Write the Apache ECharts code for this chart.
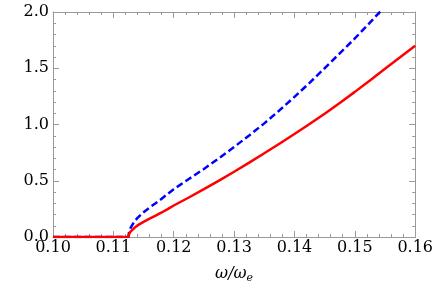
<!DOCTYPE html>
<html>
<head>
<meta charset="utf-8">
<script src="https://cdn.jsdelivr.net/npm/echarts@6/dist/echarts.min.js"></script>
<style>html,body{margin:0;padding:0;background:#fff}#c{width:436px;height:289px}</style>
</head>
<body>
<div id="c"></div>
<script>
// omega / omega_e values and curves
var redX = [0.100, 0.1125, 0.1126, 0.1128, 0.1130, 0.1135, 0.1140, 0.1150, 0.1160, 0.1170, 0.1180, 0.1190, 0.1200, 0.1225, 0.1250, 0.1275, 0.1300, 0.1325, 0.1350, 0.1375, 0.1400, 0.1425, 0.1450, 0.1475, 0.1500, 0.1525, 0.1550, 0.1575, 0.1600];
var redY = [0.0, 0.0, 0.025, 0.045, 0.058, 0.082, 0.103, 0.135, 0.163, 0.190, 0.218, 0.248, 0.280, 0.351, 0.425, 0.501, 0.580, 0.661, 0.745, 0.829, 0.915, 1.004, 1.095, 1.191, 1.290, 1.391, 1.495, 1.597, 1.700];
var blueX = [0.100, 0.1125, 0.1126, 0.1128, 0.1130, 0.1135, 0.1140, 0.1150, 0.1160, 0.1170, 0.1180, 0.1190, 0.1200, 0.1225, 0.1250, 0.1275, 0.1300, 0.1325, 0.1350, 0.1375, 0.1400, 0.1425, 0.1450, 0.1475, 0.1500, 0.1525, 0.1550];
var blueY = [0.0, 0.0, 0.045, 0.075, 0.095, 0.140, 0.170, 0.220, 0.262, 0.300, 0.340, 0.383, 0.425, 0.515, 0.605, 0.700, 0.800, 0.903, 1.010, 1.125, 1.245, 1.370, 1.500, 1.632, 1.765, 1.905, 2.050];
var xTicks = [0.10, 0.11, 0.12, 0.13, 0.14, 0.15, 0.16];
var yTicks = [0.0, 0.5, 1.0, 1.5, 2.0];

function pairs(xs, ys) { return xs.map(function (x, i) { return [x, ys[i]]; }); }

var FONT = 'DejaVu Serif';
var frame = '#9a9a9a';
function xAx(pos, labels) {
  return {
    type: 'value', position: pos, min: xTicks[0], max: xTicks[xTicks.length - 1], interval: 0.01,
    axisLine: { show: true, onZero: false, lineStyle: { color: frame, width: 1 } },
    axisTick: { show: true, inside: true, length: 6, lineStyle: { color: frame } },
    minorTick: { show: true, splitNumber: 5, length: 3, lineStyle: { color: frame } },
    splitLine: { show: false },
    axisLabel: { show: labels, margin: 3, color: '#000', fontFamily: FONT, fontSize: 16,
      formatter: function (v) { return v.toFixed(2); } },
    name: labels ? '{a|ω/ω}{s|e}' : '', nameLocation: 'middle', nameGap: 27,
    nameTextStyle: { rich: {
      a: { fontFamily: FONT, fontStyle: 'italic', fontSize: 16, color: '#000' },
      s: { fontFamily: FONT, fontStyle: 'italic', fontSize: 11, color: '#000', verticalAlign: 'bottom', padding: [9, 0, 0, 0] }
    } }
  };
}
function yAx(pos, labels) {
  return {
    type: 'value', position: pos, min: yTicks[0], max: yTicks[yTicks.length - 1], interval: 0.5,
    axisLine: { show: true, onZero: false, lineStyle: { color: frame, width: 1 } },
    axisTick: { show: true, inside: true, length: 6, lineStyle: { color: frame } },
    minorTick: { show: true, splitNumber: 5, length: 3, lineStyle: { color: frame } },
    splitLine: { show: false },
    axisLabel: { show: labels, margin: 4, color: '#000', fontFamily: FONT, fontSize: 16,
      formatter: function (v) { return v.toFixed(1); } }
  };
}

var chart = echarts.init(document.getElementById('c'), null, { renderer: 'canvas' });
chart.setOption({
  animation: false,
  backgroundColor: '#fff',
  grid: { left: 53, right: 18, top: 12, bottom: 52 },
  xAxis: [xAx('bottom', true), xAx('top', false)],
  yAxis: [yAx('left', true), yAx('right', false)],
  series: [
    { type: 'line', xAxisIndex: 0, yAxisIndex: 0, data: pairs(blueX, blueY), smooth: false, showSymbol: false, clip: true,
      lineStyle: { color: '#0000ff', width: 2.5, type: [7, 3.5] } },
    { type: 'line', xAxisIndex: 0, yAxisIndex: 0, data: pairs(redX, redY), smooth: false, showSymbol: false, clip: true,
      lineStyle: { color: '#ff0000', width: 2.5 } }
  ]
});
</script>
</body>
</html>
